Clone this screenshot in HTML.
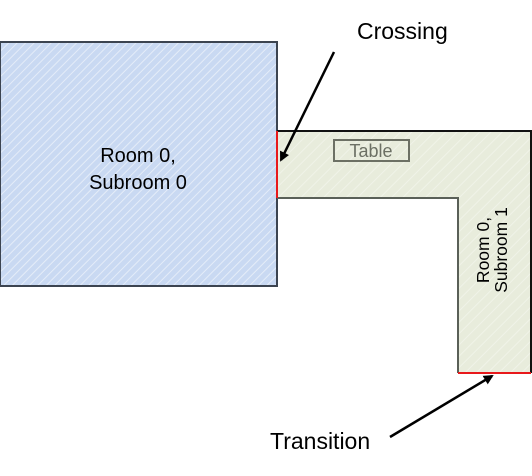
<!DOCTYPE html>
<html><head><style>body{margin:0;background:#fff}svg{display:block}</style></head><body>
<svg width="532" height="476" viewBox="0 0 532 476" xmlns="http://www.w3.org/2000/svg" font-family="Liberation Sans, sans-serif">
<defs>
<pattern id="pb" width="6" height="6" patternUnits="userSpaceOnUse" patternTransform="rotate(45)">
<rect width="6" height="6" fill="#c9d9f2"/><rect width="1" height="6" fill="#e4ecf8"/></pattern>
<pattern id="pg" width="8" height="8" patternUnits="userSpaceOnUse" patternTransform="rotate(45)">
<rect width="8" height="8" fill="#e8ecdc"/><rect width="1" height="8" fill="#f0f3e8"/></pattern>
<marker id="ah" markerWidth="10" markerHeight="10" refX="8" refY="5" orient="auto" markerUnits="userSpaceOnUse"><path d="M0,0 L10,5 L0,10 z" fill="#000"/></marker>
</defs>
<rect x="0" y="42" width="277" height="244" fill="url(#pb)" stroke="#3c4450" stroke-width="2"/>
<path d="M277,131 L531,131 L531,373 L458,373 L458,198 L277,198 Z" fill="url(#pg)"/>
<path d="M277,131 L531,131 L531,373" fill="none" stroke="#111" stroke-width="2"/>
<path d="M277,198 L458,198 L458,373" fill="none" stroke="#5a6058" stroke-width="2"/>
<line x1="277" y1="131" x2="277" y2="198" stroke="#e8191b" stroke-width="2"/>
<line x1="458" y1="373" x2="531" y2="373" stroke="#e8191b" stroke-width="2"/>
<rect x="334" y="140" width="75" height="21" fill="none" stroke="#6c7064" stroke-width="2"/>
<text x="371" y="157" font-size="18" fill="#6c7064" text-anchor="middle">Table</text>
<text x="138" y="162" font-size="20" text-anchor="middle">Room 0,</text>
<text x="138" y="189" font-size="20" text-anchor="middle">Subroom 0</text>
<g transform="translate(492,250) rotate(-90)">
<text x="0" y="-3" font-size="17.5" text-anchor="middle">Room 0,</text>
<text x="0" y="15" font-size="17.5" text-anchor="middle">Subroom 1</text>
</g>
<text x="357" y="39" font-size="23">Crossing</text>
<line x1="334" y1="52" x2="281" y2="160" stroke="#000" stroke-width="2.5" marker-end="url(#ah)"/>
<text x="270" y="449" font-size="23">Transition</text>
<line x1="390" y1="437" x2="492" y2="376" stroke="#000" stroke-width="2.5" marker-end="url(#ah)"/>
</svg>
</body></html>
